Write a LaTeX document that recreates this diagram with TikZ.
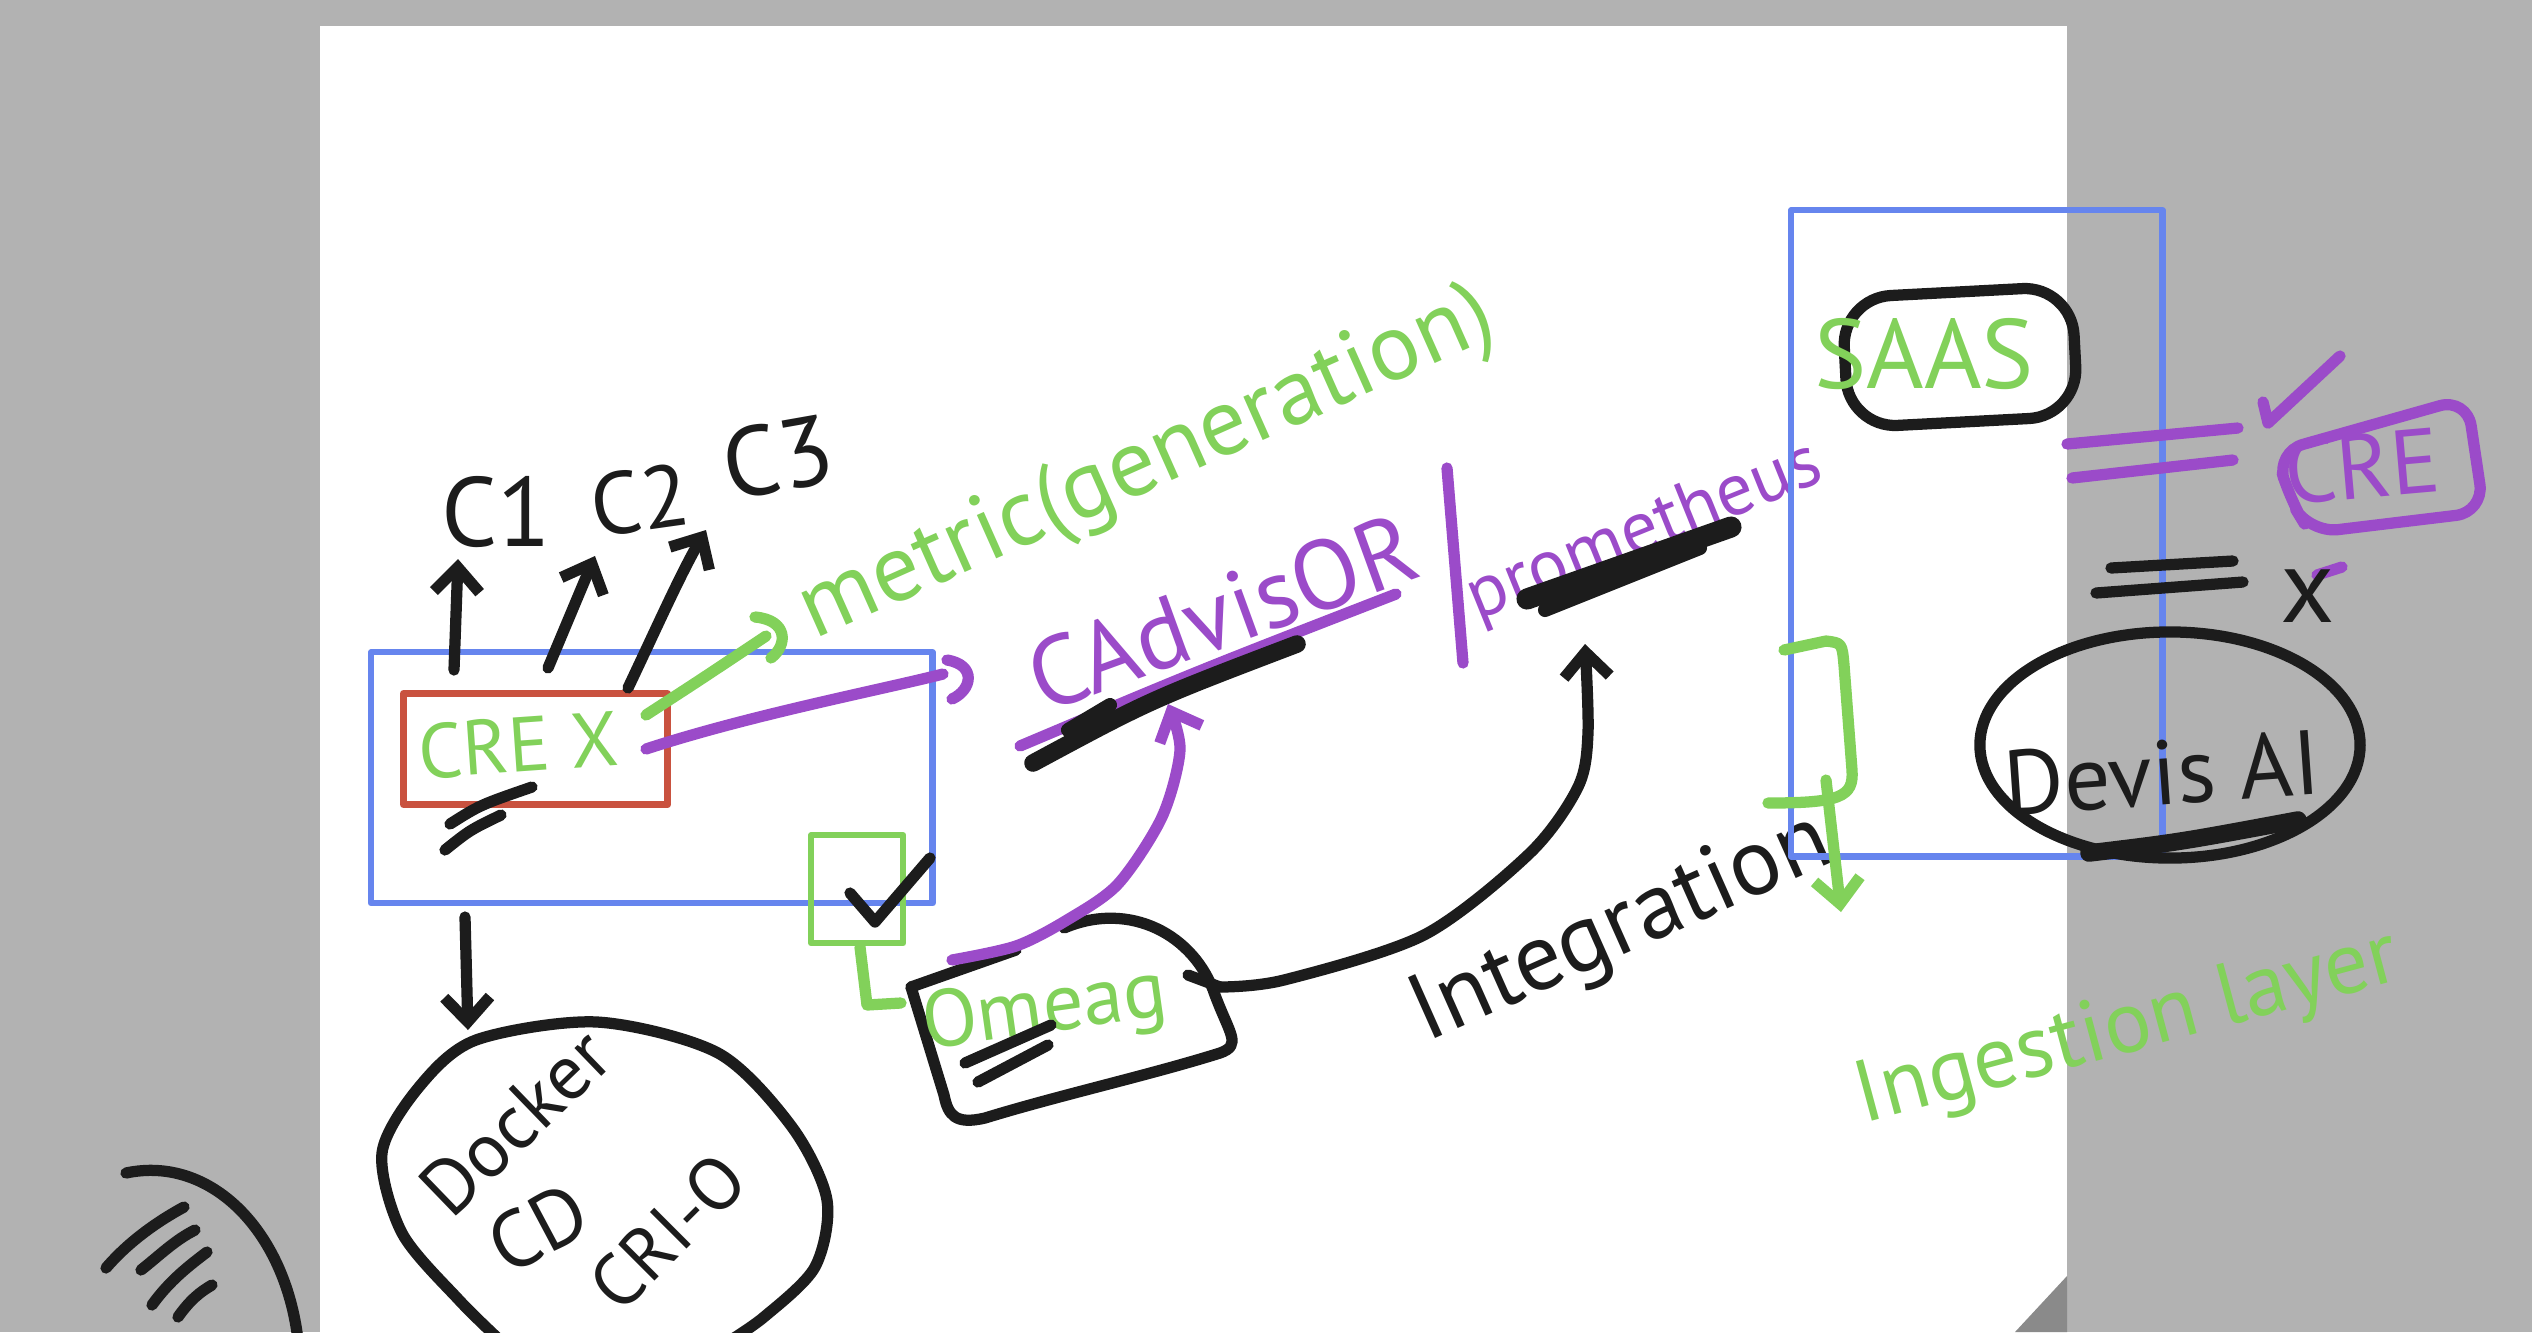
\documentclass[tikz,border=0pt]{standalone}
\usepackage{fontspec}
\setmainfont{PT Sans}
\usetikzlibrary{arrows.meta,shapes.geometric}
\definecolor{bggray}{HTML}{B2B2B2}
\definecolor{foldgray}{HTML}{8A8A8A}
\definecolor{cblue}{HTML}{6685EE}
\definecolor{cred}{HTML}{C9523F}
\definecolor{cgreen}{HTML}{82D15A}
\definecolor{cpurple}{HTML}{9B4BC9}
\definecolor{ink}{HTML}{1C1C1C}
\newcommand\myfs[1]{\fontsize{#1}{#1}\selectfont}
\begin{document}
\begin{tikzpicture}[x=0.01cm,y=-0.01cm,line cap=round,line join=round,
  pen/.style={line width=3.2pt},
  blackpen/.style={pen,draw=ink},
  greenpen/.style={pen,draw=cgreen},
  purplepen/.style={pen,draw=cpurple},
  boxline/.style={draw,line width=1.8pt,inner sep=0pt,anchor=north west},
  lbl/.style={inner sep=0pt},
  barb/.style={-{Straight Barb[length=7pt,width=13pt]}},
  scrib/.style={draw=ink,line width=5pt}
]
\useasboundingbox (0,0) rectangle (2532,1332);
\fill[bggray] (0,0) rectangle (2532,1332);
\fill[white] (320,26) rectangle (2067,1332);
\fill[foldgray] (2015,1332) -- (2067,1276) -- (2067,1332) -- cycle;

% ---------- left part ----------
\node[boxline,draw=cblue,minimum width=5.61cm,minimum height=2.51cm] (leftbox) at (368,649) {};
\node[boxline,draw=cred,line width=2pt,minimum width=2.64cm,minimum height=1.11cm] (crebox) at (400,690) {};
\node[lbl,text=cgreen,font=\myfs{22},rotate=4] (crex) at (518,745) {CRE X};
\draw[blackpen] (450,824) .. controls (480,805) .. (532,787);
\draw[blackpen] (445,850) .. controls (470,830) .. (501,815);

\node[lbl,text=ink,font=\myfs{28}] (c1) at (496,512) {C1};
\node[lbl,text=ink,font=\myfs{25},rotate=8] (c2) at (640,500) {C2};
\node[lbl,text=ink,font=\myfs{28},rotate=10] (c3) at (778,457) {C3};
\coordinate (a1s) at (454,670); \coordinate (a1e) at (458,559);
\coordinate (a2s) at (548,668); \coordinate (a2e) at (595,556);
\coordinate (a3s) at (628,688); \coordinate (a3e) at (706,530);
\draw[blackpen,barb] (a1s) -- (a1e);
\draw[blackpen,barb] (a2s) -- (a2e);
\draw[blackpen,barb] (a3s) .. controls (657,627) and (680,575) .. (a3e);

% green arrow to metric
\coordinate (gms) at (646,715); \coordinate (gme) at (766,636);
\draw[greenpen] (gms) .. controls (700,680) .. (gme);
\draw[greenpen] (755,617) .. controls (788,620) and (788,645) .. (771,658);
\node[lbl,text=cgreen,font=\myfs{27},rotate=24] (metric) at (1148,466) {metric(generation)};

% purple line to CAdvisor
\coordinate (pls) at (646,749); \coordinate (ple) at (943,674);
\draw[purplepen] (pls) .. controls (750,715) and (880,690) .. (ple);
\draw[purplepen] (947,660) .. controls (977,665) and (972,690) .. (952,699);

\node[lbl,text=cpurple,font=\myfs{28},rotate=20] (cadv) at (1222,612) {CAdvisOR};
\draw[purplepen] (1020,746) .. controls (1200,670) .. (1396,594);
\draw[scrib] (1033,763) .. controls (1150,700) .. (1297,644);
\draw[scrib,line width=4pt] (1068,730) -- (1110,705);
\draw[purplepen] (1447,468) -- (1463,663);
\node[lbl,text=cpurple,font=\myfs{21},rotate=22] (prom) at (1645,533) {prometheus};
\draw[scrib,line width=6pt] (1527,599) -- (1731,527);
\draw[scrib,line width=4pt] (1545,610) -- (1700,548);

% check box
\node[boxline,draw=cgreen,minimum width=0.92cm,minimum height=1.08cm] (gbox) at (808,832) {};
\draw[blackpen] (850,893) -- (875,922) -- (930,858);
\draw[greenpen] (860,947) -- (867,1005) -- (901,1003);

% docker
\coordinate (dks) at (465,917); \coordinate (dke) at (468,1030);
\draw[blackpen,barb] (dks) -- (dke);
\draw[blackpen] plot[smooth] coordinates {(505,1345) (459,1300) (402,1233) (382,1153) (419,1087) (476,1040) (597,1022) (718,1053) (792,1127) (827,1200) (815,1267) (764,1317) (723,1345)};
\node[lbl,text=ink,font=\myfs{22},rotate=44] (docker) at (515,1122) {Docker};
\node[lbl,text=ink,font=\myfs{23},rotate=28] (cd) at (538,1228) {CD};
\node[lbl,text=ink,font=\myfs{21},rotate=45] (crio) at (668,1232) {CRI-O};

% bottom-left blob
\draw[blackpen] (126,1173) .. controls (210,1155) and (285,1230) .. (298,1340);
\draw[blackpen] (106,1268) .. controls (130,1240) and (160,1220) .. (184,1207);
\draw[blackpen] (141,1270) .. controls (160,1255) and (175,1240) .. (195,1230);
\draw[blackpen] (152,1305) .. controls (170,1280) and (190,1265) .. (207,1252);
\draw[blackpen] (178,1317) .. controls (190,1300) and (200,1292) .. (212,1285);

% omeag box
\draw[blackpen] (911,987) -- (1016,950);
\draw[blackpen] (1064,928) .. controls (1130,900) and (1195,935) .. (1215,995) .. controls (1230,1035) and (1242,1045) .. (1220,1053) .. controls (1150,1075) and (1060,1095) .. (985,1118) .. controls (955,1125) and (948,1115) .. (944,1095) -- (911,987);
\node[lbl,text=cgreen,font=\myfs{23},rotate=8] (omeag) at (1045,1012) {Omeag};
\draw[blackpen] (965,1063) -- (1051,1025);
\draw[blackpen] (978,1082) -- (1048,1045);
\coordinate (omR) at (1220,987);
\draw[blackpen] (1188,975) -- (omR);
\draw[purplepen,barb] plot[smooth] coordinates {(952,960) (1016,946) (1067,920) (1118,884) (1162,817) (1180,750) (1168,704)};
\draw[blackpen,barb] plot[smooth] coordinates {(omR) (1284,980) (1424,935) (1530,853) (1578,787) (1588,733) (1585,644)};
\node[lbl,text=ink,font=\myfs{27},rotate=24] (integ) at (1622,930) {Integration};

% ---------- right part ----------
\node[boxline,draw=cblue,minimum width=3.71cm,minimum height=6.46cm] (rightbox) at (1788,207) {};
\node[draw=ink,line width=3.2pt,rounded corners=14pt,minimum width=2.3cm,minimum height=1.3cm,rotate=3] (saasbox) at (1960,357) {};
\node[lbl,text=cgreen,font=\myfs{28}] (saas) at (1924,354) {SAAS};
\draw[purplepen] (2067,444) -- (2238,428);
\draw[purplepen] (2072,478) -- (2233,460);
\draw[purplepen] (2263,402) -- (2268,423) -- (2340,356);
\draw[purplepen,rounded corners=8pt] (2276,452) -- (2467,398) -- (2484,512) -- (2310,533) -- (2290,500) -- cycle;
\draw[purplepen] (2317,575) -- (2342,567);
\node[lbl,text=cpurple,font=\myfs{26},rotate=5] (cre2) at (2362,466) {CRE};
\draw[blackpen] (2111,568) -- (2233,561);
\draw[blackpen] (2096,593) -- (2243,582);
\node[lbl,text=ink,font=\myfs{30}] (xmark) at (2308,596) {x};
\node[draw=ink,line width=3.2pt,ellipse,minimum width=3.8cm,minimum height=2.26cm] (devis) at (2170,745) {};
\node[lbl,text=ink,font=\myfs{26},rotate=4] (devistxt) at (2162,773) {Devis AI};
\draw[scrib] (2089,853) .. controls (2180,842) .. (2298,820);

\coordinate (brs) at (1784,650);
\draw[greenpen] (brs) -- (1826,641) .. controls (1842,643) .. (1844,665) -- (1852,770) .. controls (1854,797) and (1840,803) .. (1768,803);
\coordinate (gas) at (1826,780); \coordinate (gae) at (1841,912);
\draw[greenpen,barb] (gas) -- (gae);
\node[lbl,text=cgreen,font=\myfs{25},rotate=15] (ingest) at (2128,1030) {Ingestion layer};
\end{tikzpicture}
\end{document}
